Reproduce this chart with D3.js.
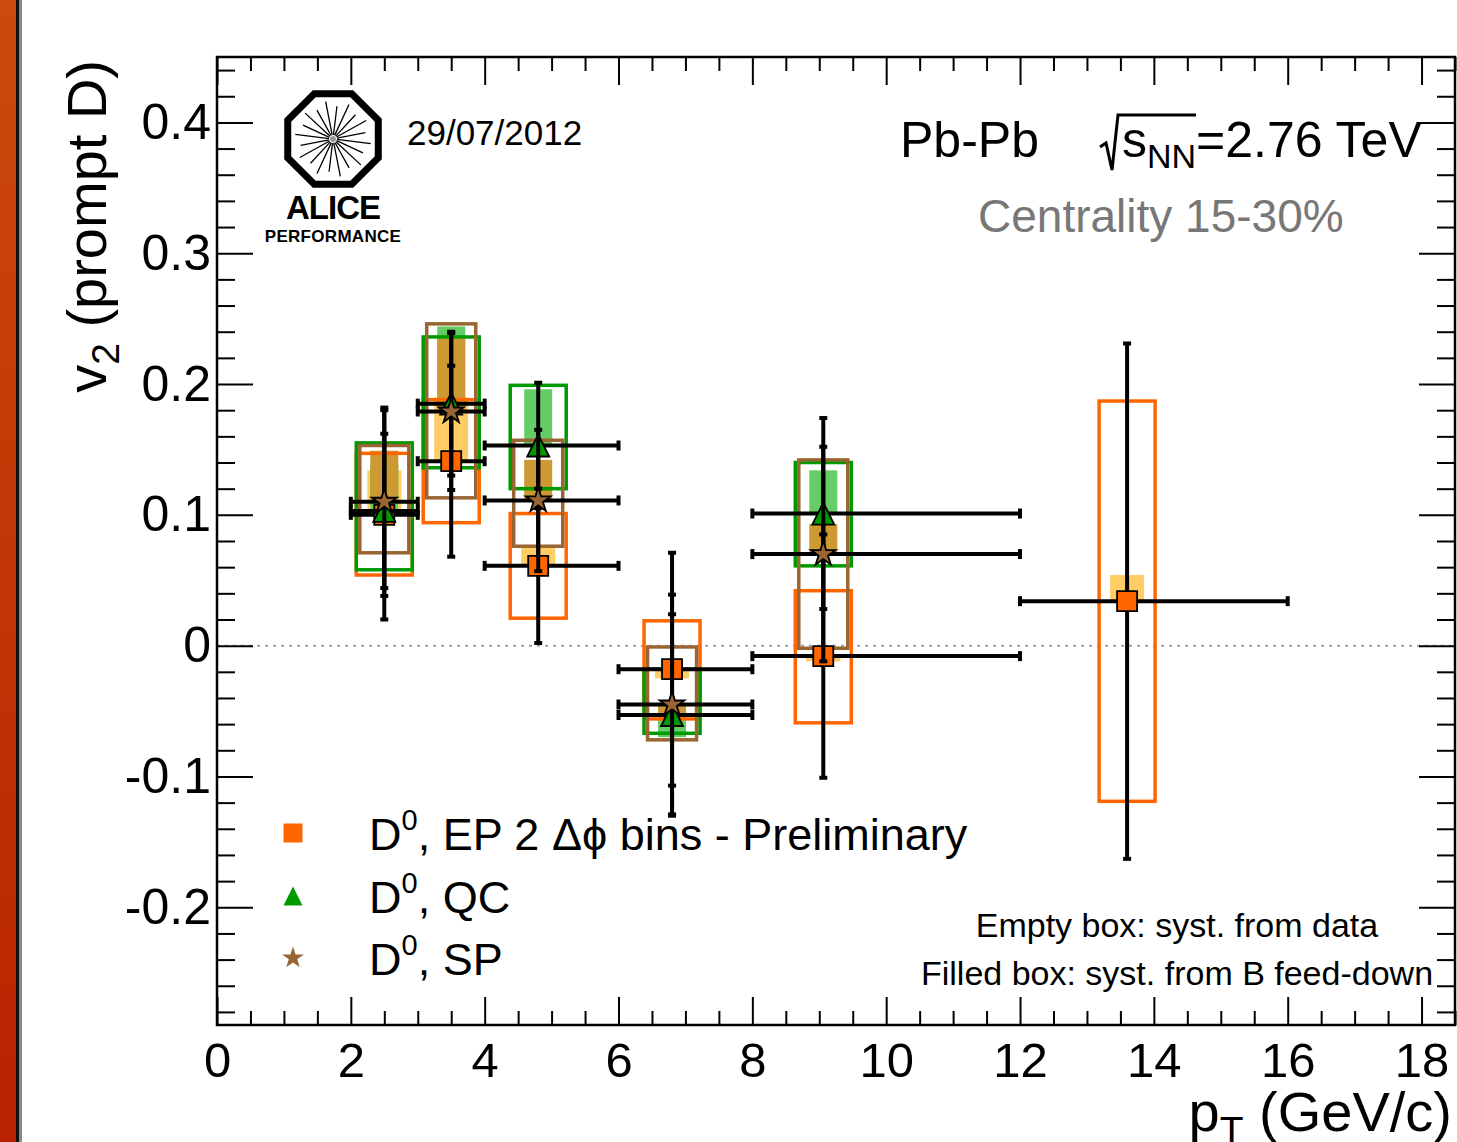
<!DOCTYPE html>
<html>
<head>
<meta charset="utf-8">
<script src="https://cdn.jsdelivr.net/npm/d3@7"></script>
<style>
  html, body { margin: 0; padding: 0; background: #fff; }
  svg { display: block; }
  text { font-family: "Liberation Sans", Arial, Helvetica, sans-serif; }
</style>
</head>
<body>
<div id="chart"></div>
<script>
// ---------------- DATA ----------------
const binLo = [2, 3, 4, 6, 8, 12];
const binHi = [3, 4, 6, 8, 12, 16];

// D0, EP 2 delta-phi bins (squares)
const ptEP      = [2.5, 3.5, 4.8, 6.8, 9.06, 13.6];
const v2EP      = [0.100, 0.141, 0.061, -0.018, -0.008, 0.034];
const statEP    = [0.080, 0.073, 0.059, 0.089, 0.093, 0.197];
const sysLoEP   = [0.054, 0.094, 0.021, -0.056, -0.059, -0.119];
const sysHiEP   = [0.147, 0.188, 0.101, 0.019, 0.042, 0.187];
const fdEP      = [0.134, 0.190, 0.075, -0.025, -0.012, 0.054];

// D0, QC (triangles)
const ptQC      = [2.5, 3.5, 4.8, 6.8, 9.06];
const v2QC      = [0.103, 0.185, 0.153, -0.053, 0.101];
const statQC    = [0.059, 0.055, 0.048, 0.077, 0.073];
const sysLoQC   = [0.058, 0.136, 0.120, -0.067, 0.061];
const sysHiQC   = [0.155, 0.236, 0.199, -0.018, 0.140];
const fdQC      = [0.140, 0.244, 0.196, -0.070, 0.134];

// D0, SP (stars)
const ptSP      = [2.5, 3.5, 4.8, 6.8, 9.06];
const v2SP      = [0.110, 0.179, 0.111, -0.045, 0.070];
const statSP    = [0.072, 0.060, 0.054, 0.084, 0.082];
const sysLoSP   = [0.071, 0.113, 0.076, -0.072, -0.002];
const sysHiSP   = [0.153, 0.246, 0.157, -0.001, 0.142];
const fdSP      = [0.149, 0.235, 0.142, -0.057, 0.093];

const xMajorTicks = [0, 2, 4, 6, 8, 10, 12, 14, 16, 18];
const yMajorTicks = [-0.2, -0.1, 0, 0.1, 0.2, 0.3, 0.4];

const legendLabels = ["EP 2 \u0394\u03d5 bins - Preliminary", "QC", "SP"];

// ---------------- LAYOUT ----------------
const W = 1457, H = 1142;
const L = 217, R = 1455, T = 57, B = 1025;

const svg = d3.select("#chart").append("svg").attr("width", W).attr("height", H);

const x = d3.scaleLinear().domain([0, 18.5]).range([L, R]);
const y = d3.scaleLinear().domain([-0.29, 0.45]).range([B, T]);

// left-edge slide decoration
const defs = svg.append("defs");
const grad = defs.append("linearGradient").attr("id", "edge").attr("x1", 0).attr("y1", 0).attr("x2", 0).attr("y2", 1);
grad.append("stop").attr("offset", "0%").attr("stop-color", "#cc4a0c");
grad.append("stop").attr("offset", "100%").attr("stop-color", "#b82200");
svg.append("rect").attr("x", 0).attr("y", 0).attr("width", 16).attr("height", H).attr("fill", "url(#edge)");
svg.append("rect").attr("x", 16).attr("y", 0).attr("width", 3).attr("height", H).attr("fill", "#111");
svg.append("rect").attr("x", 19).attr("y", 0).attr("width", 3).attr("height", H).attr("fill", "#888");

// zero line
svg.append("line")
  .attr("x1", x(0)).attr("x2", R).attr("y1", y(0)).attr("y2", y(0))
  .attr("stroke", "#a0a0a0").attr("stroke-width", 2).attr("stroke-dasharray", "3,5");

// ---------------- AXES ----------------
function styleAxis(g) {
  g.select(".domain").remove();
  g.selectAll("line").attr("stroke", "#000").attr("stroke-width", 2);
  g.selectAll("text").attr("fill", "#000").attr("font-family", "Liberation Sans, Arial, sans-serif");
  return g;
}
const xMinor = d3.range(0, 18.51, 0.5).filter(v => Math.abs(v / 2 - Math.round(v / 2)) > 1e-6);
const yMinor = d3.range(-0.28, 0.4401, 0.02).map(v => +v.toFixed(2)).filter(v => Math.abs(v * 10 - Math.round(v * 10)) > 1e-6);

// bottom
styleAxis(svg.append("g").attr("transform", `translate(0,${B})`)
  .call(d3.axisBottom(x).tickValues(xMajorTicks).tickSize(-28).tickPadding(17).tickFormat(d => String(d))))
  .selectAll("text").attr("font-size", 49);
styleAxis(svg.append("g").attr("transform", `translate(0,${B})`)
  .call(d3.axisBottom(x).tickValues(xMinor).tickSize(-14).tickFormat("")));
// top
styleAxis(svg.append("g").attr("transform", `translate(0,${T})`)
  .call(d3.axisTop(x).tickValues(xMajorTicks).tickSize(-28).tickFormat("")));
styleAxis(svg.append("g").attr("transform", `translate(0,${T})`)
  .call(d3.axisTop(x).tickValues(xMinor).tickSize(-14).tickFormat("")));
// left
styleAxis(svg.append("g").attr("transform", `translate(${L},0)`)
  .call(d3.axisLeft(y).tickValues(yMajorTicks).tickSize(-36).tickPadding(6).tickFormat(d => String(d))))
  .selectAll("text").attr("font-size", 50);
styleAxis(svg.append("g").attr("transform", `translate(${L},0)`)
  .call(d3.axisLeft(y).tickValues(yMinor).tickSize(-18).tickFormat("")));
// right
styleAxis(svg.append("g").attr("transform", `translate(${R},0)`)
  .call(d3.axisRight(y).tickValues(yMajorTicks).tickSize(-36).tickFormat("")));
styleAxis(svg.append("g").attr("transform", `translate(${R},0)`)
  .call(d3.axisRight(y).tickValues(yMinor).tickSize(-18).tickFormat("")));

// ---------------- SERIES ----------------
const series = [
  { pt: ptEP, v: v2EP, stat: statEP, lo: sysLoEP, hi: sysHiEP, fd: fdEP,
    col: "#ff6600", fill: "#ffcc66", boxW: 56, fdW: 34, marker: "square" },
  { pt: ptQC, v: v2QC, stat: statQC, lo: sysLoQC, hi: sysHiQC, fd: fdQC,
    col: "#009900", fill: "#66cc66", boxW: 56, fdW: 28, marker: "triangle" },
  { pt: ptSP, v: v2SP, stat: statSP, lo: sysLoSP, hi: sysHiSP, fd: fdSP,
    col: "#996633", fill: "#cc9933", boxW: 49, fdW: 28, marker: "star" }
];

function rows(s) {
  return s.v.map((v, i) => ({ pt: s.pt[i], v, stat: s.stat[i], lo: s.lo[i], hi: s.hi[i], fd: s.fd[i], xl: binLo[i], xh: binHi[i] }));
}

// filled boxes (feed-down)
series.forEach(s => {
  svg.append("g").selectAll("rect").data(rows(s)).join("rect")
    .attr("x", d => x(d.pt) - s.fdW / 2)
    .attr("width", s.fdW)
    .attr("y", d => Math.min(y(d.v), y(d.fd)))
    .attr("height", d => Math.abs(y(d.v) - y(d.fd)))
    .attr("fill", s.fill);
});
// empty boxes (data syst)
series.forEach(s => {
  svg.append("g").selectAll("rect").data(rows(s)).join("rect")
    .attr("x", d => x(d.pt) - s.boxW / 2)
    .attr("width", s.boxW)
    .attr("y", d => y(d.hi))
    .attr("height", d => y(d.lo) - y(d.hi))
    .attr("fill", "none").attr("stroke", s.col).attr("stroke-width", 3.5);
});

function markerPath(type, size) {
  if (type === "square") {
    const h = size / 2;
    return `M${-h},${-h}H${h}V${h}H${-h}Z`;
  }
  if (type === "triangle") {
    const h = size / 2;
    return `M0,${-h}L${h},${h}L${-h},${h}Z`;
  }
  return d3.symbol(d3.symbolStar, size)();
}

// stat errors + markers
series.forEach(s => {
  const g = svg.append("g");
  const d = rows(s);
  g.selectAll(".ev").data(d).join("line")
    .attr("x1", r => x(r.pt)).attr("x2", r => x(r.pt))
    .attr("y1", r => y(r.v + r.stat)).attr("y2", r => y(r.v - r.stat))
    .attr("stroke", "#000").attr("stroke-width", 4);
  g.selectAll(".eh").data(d).join("line")
    .attr("x1", r => x(r.xl)).attr("x2", r => x(r.xh))
    .attr("y1", r => y(r.v)).attr("y2", r => y(r.v))
    .attr("stroke", "#000").attr("stroke-width", 4);
  ["top", "bot"].forEach(k => {
    g.selectAll(".cv" + k).data(d).join("line")
      .attr("x1", r => x(r.pt) - 4).attr("x2", r => x(r.pt) + 4)
      .attr("y1", r => y(k === "top" ? r.v + r.stat : r.v - r.stat))
      .attr("y2", r => y(k === "top" ? r.v + r.stat : r.v - r.stat))
      .attr("stroke", "#000").attr("stroke-width", 4);
    g.selectAll(".ch" + k).data(d).join("line")
      .attr("x1", r => x(k === "top" ? r.xl : r.xh)).attr("x2", r => x(k === "top" ? r.xl : r.xh))
      .attr("y1", r => y(r.v) - 5).attr("y2", r => y(r.v) + 5)
      .attr("stroke", "#000").attr("stroke-width", 4);
  });
  const sz = s.marker === "star" ? 190 : (s.marker === "triangle" ? 22 : 20);
  g.selectAll("path").data(d).join("path")
    .attr("transform", r => `translate(${x(r.pt)},${y(r.v)})`)
    .attr("d", markerPath(s.marker, sz))
    .attr("fill", s.col).attr("stroke", "#000").attr("stroke-width", 1.8)
    .attr("stroke-linejoin", "miter");
});

// ---------------- LEGEND ----------------
const legY = [833, 896, 958];
const leg = svg.append("g");
series.forEach((s, i) => {
  const sz = s.marker === "star" ? 150 : 19;
  leg.append("path")
    .attr("transform", `translate(293,${legY[i]})`)
    .attr("d", markerPath(s.marker, sz))
    .attr("fill", s.col);
  const t = leg.append("text").attr("x", 369).attr("y", legY[i] + 17).attr("font-size", 45).attr("fill", "#000");
  t.append("tspan").text("D");
  t.append("tspan").attr("dy", -20).attr("font-size", 29).text("0");
  t.append("tspan").attr("dy", 20).text(", " + legendLabels[i]);
});

// ---------------- TEXTS ----------------
const yt = svg.append("text")
  .attr("transform", "translate(106,60) rotate(-90)")
  .attr("text-anchor", "end").attr("font-size", 56).attr("fill", "#000");
yt.append("tspan").text("v");
yt.append("tspan").attr("dy", 13).attr("font-size", 39).text("2");
yt.append("tspan").attr("dy", -13).text(" (prompt D)");

const xt = svg.append("text")
  .attr("x", 1452).attr("y", 1131)
  .attr("text-anchor", "end").attr("font-size", 56).attr("fill", "#000");
xt.append("tspan").text("p");
xt.append("tspan").attr("dy", 13).attr("font-size", 39).text("T");
xt.append("tspan").attr("dy", -13).text(" (GeV/c)");

svg.append("text").attr("x", 407).attr("y", 145).attr("font-size", 35).attr("fill", "#000").text("29/07/2012");

svg.append("text").attr("x", 900).attr("y", 157).attr("font-size", 50).attr("fill", "#000").text("Pb-Pb");
svg.append("path")
  .attr("d", "M1100,147 L1106,143 L1112,170 L1118,115 L1196,115")
  .attr("fill", "none").attr("stroke", "#000").attr("stroke-width", 3).attr("stroke-linejoin", "miter");
const ecm = svg.append("text").attr("x", 1122).attr("y", 157).attr("font-size", 50).attr("fill", "#000");
ecm.append("tspan").text("s");
ecm.append("tspan").attr("dy", 11).attr("font-size", 34).text("NN");
ecm.append("tspan").attr("dy", -11).text("=2.76 TeV");

svg.append("text").attr("x", 978).attr("y", 232).attr("font-size", 46).attr("fill", "#777").text("Centrality 15-30%");

svg.append("text").attr("x", 1177).attr("y", 937).attr("text-anchor", "middle").attr("font-size", 34).attr("fill", "#000")
  .text("Empty box: syst. from data");
svg.append("text").attr("x", 1177).attr("y", 985).attr("text-anchor", "middle").attr("font-size", 34).attr("fill", "#000")
  .text("Filled box: syst. from B feed-down");

// ---------------- ALICE LOGO ----------------
const logo = svg.append("g").attr("transform", "translate(333,139)");
const Ro = 49;
const oct = d3.range(8).map(k => {
  const a = Math.PI / 8 + k * Math.PI / 4;
  return [Ro * Math.cos(a), Ro * Math.sin(a)];
});
logo.append("path").attr("d", "M" + oct.map(p => p.join(",")).join("L") + "Z")
  .attr("fill", "#fff").attr("stroke", "#000").attr("stroke-width", 7);
const spokes = d3.range(20);
logo.selectAll(".sp").data(spokes).join("line")
  .attr("x1", k => 4 * Math.cos(k * Math.PI / 10 + 0.12))
  .attr("y1", k => 4 * Math.sin(k * Math.PI / 10 + 0.12))
  .attr("x2", k => (k % 2 ? 33 : 38) * Math.cos(k * Math.PI / 10 + 0.12))
  .attr("y2", k => (k % 2 ? 33 : 38) * Math.sin(k * Math.PI / 10 + 0.12))
  .attr("stroke", "#000").attr("stroke-width", 1.3);
logo.append("circle").attr("r", 3).attr("fill", "#999");
svg.append("text").attr("x", 333).attr("y", 219).attr("text-anchor", "middle")
  .attr("font-family", "DejaVu Sans Mono, monospace").attr("font-weight", "bold")
  .attr("font-size", 33).attr("letter-spacing", -1).attr("fill", "#000").text("ALICE");
svg.append("text").attr("x", 333).attr("y", 242).attr("text-anchor", "middle")
  .attr("font-family", "DejaVu Sans Mono, monospace").attr("font-weight", "bold")
  .attr("font-size", 17).attr("letter-spacing", 0.3).attr("fill", "#000").text("PERFORMANCE");

// frame
svg.append("rect").attr("x", L).attr("y", T).attr("width", R - L).attr("height", B - T)
  .attr("fill", "none").attr("stroke", "#000").attr("stroke-width", 2.5);
</script>
</body>
</html>
